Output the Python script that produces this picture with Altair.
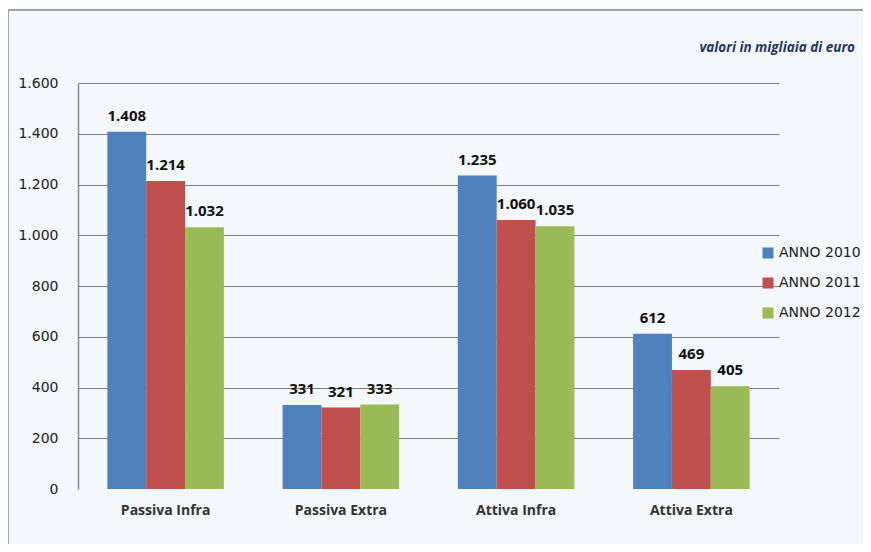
import altair as alt
import pandas as pd

categories = ["Passiva Infra", "Passiva Extra", "Attiva Infra", "Attiva Extra"]
series = ["ANNO 2010", "ANNO 2011", "ANNO 2012"]
values_2010 = [1408, 331, 1235, 612]
values_2011 = [1214, 321, 1060, 469]
values_2012 = [1032, 333, 1035, 405]
colors = ["#4F81BD", "#C0504D", "#9BBB59"]
y_ticks = [0, 200, 400, 600, 800, 1000, 1200, 1400, 1600]
note = "valori in migliaia di euro"

rows = []
for s, vals in zip(series, [values_2010, values_2011, values_2012]):
    for c, v in zip(categories, vals):
        rows.append({"cat": c, "serie": s, "val": v,
                     "lbl": f"{v:,}".replace(",", ".")})
df = pd.DataFrame(rows)

W, H = 701, 406
PL, PT, PR, PB = 70, 75, 84, 55

base = alt.Chart(df).encode(
    x=alt.X("cat:N", sort=categories,
            scale=alt.Scale(paddingInner=0.335, paddingOuter=0.1675),
            axis=alt.Axis(title=None, labelAngle=0, domain=False, ticks=False,
                          labelFont="Open Sans", labelFontWeight="bold",
                          labelFontSize=14, labelColor="#333333",
                          labelPadding=14)),
    xOffset=alt.XOffset("serie:N", sort=series,
                        scale=alt.Scale(paddingInner=0, paddingOuter=0)),
)

bars = base.mark_bar().encode(
    y=alt.Y("val:Q",
            scale=alt.Scale(domain=[0, 1600], nice=False),
            axis=alt.Axis(title=None, values=y_ticks, ticks=False,
                          domainColor="#888888", domainWidth=1.5,
                          gridColor="#808080", gridWidth=1.2,
                          gridOpacity={"condition": {"test": "datum.value === 0", "value": 0}, "value": 1},
                          labelExpr="replace(format(datum.value, ','), ',', '.')",
                          labelFont="DejaVu Sans", labelFontSize=14,
                          labelColor="#222222", labelPadding=20)),
    color=alt.Color("serie:N", sort=series,
                    scale=alt.Scale(domain=series, range=colors),
                    legend=alt.Legend(title=None, orient="none",
                                      legendX=683, legendY=163,
                                      symbolType="square", symbolSize=121,
                                      symbolStrokeWidth=0,
                                      labelFont="DejaVu Sans", labelFontSize=14,
                                      labelColor="#222222", labelOffset=4,
                                      rowPadding=16)),
)

labels = base.mark_text(font="Open Sans", fontWeight="bold", fontSize=15,
                        color="#111111", baseline="alphabetic", dy=-11).encode(
    y=alt.Y("val:Q"),
    text="lbl:N",
)

single = alt.Chart(alt.Data(values=[{"t": note}]))
left_line = single.mark_rule(color="#8a8a8a", strokeWidth=1.5).encode(
    x=alt.value(-PL), y=alt.value(-(PT - 2)), y2=alt.value(H + PB))
top_line = single.mark_rule(color="#8a8a8a", strokeWidth=1.5).encode(
    x=alt.value(-PL), x2=alt.value(787), y=alt.value(-(PT - 2)))
note_text = single.mark_text(font="Open Sans", fontStyle="italic",
                             fontWeight="bold", fontSize=13.5, color="#1F3864",
                             align="right", baseline="alphabetic").encode(
    x=alt.value(777), y=alt.value(-31), text="t:N")

chart = alt.layer(bars, labels, left_line, top_line, note_text).properties(
    width=W, height=H,
    autosize=alt.AutoSizeParams(type="none"),
    padding={"left": PL, "top": PT, "right": PR, "bottom": PB},
    background="#f4f7fb",
).configure_view(stroke=None)

chart.save("out.html", embed_options={"renderer": "svg", "actions": False})
